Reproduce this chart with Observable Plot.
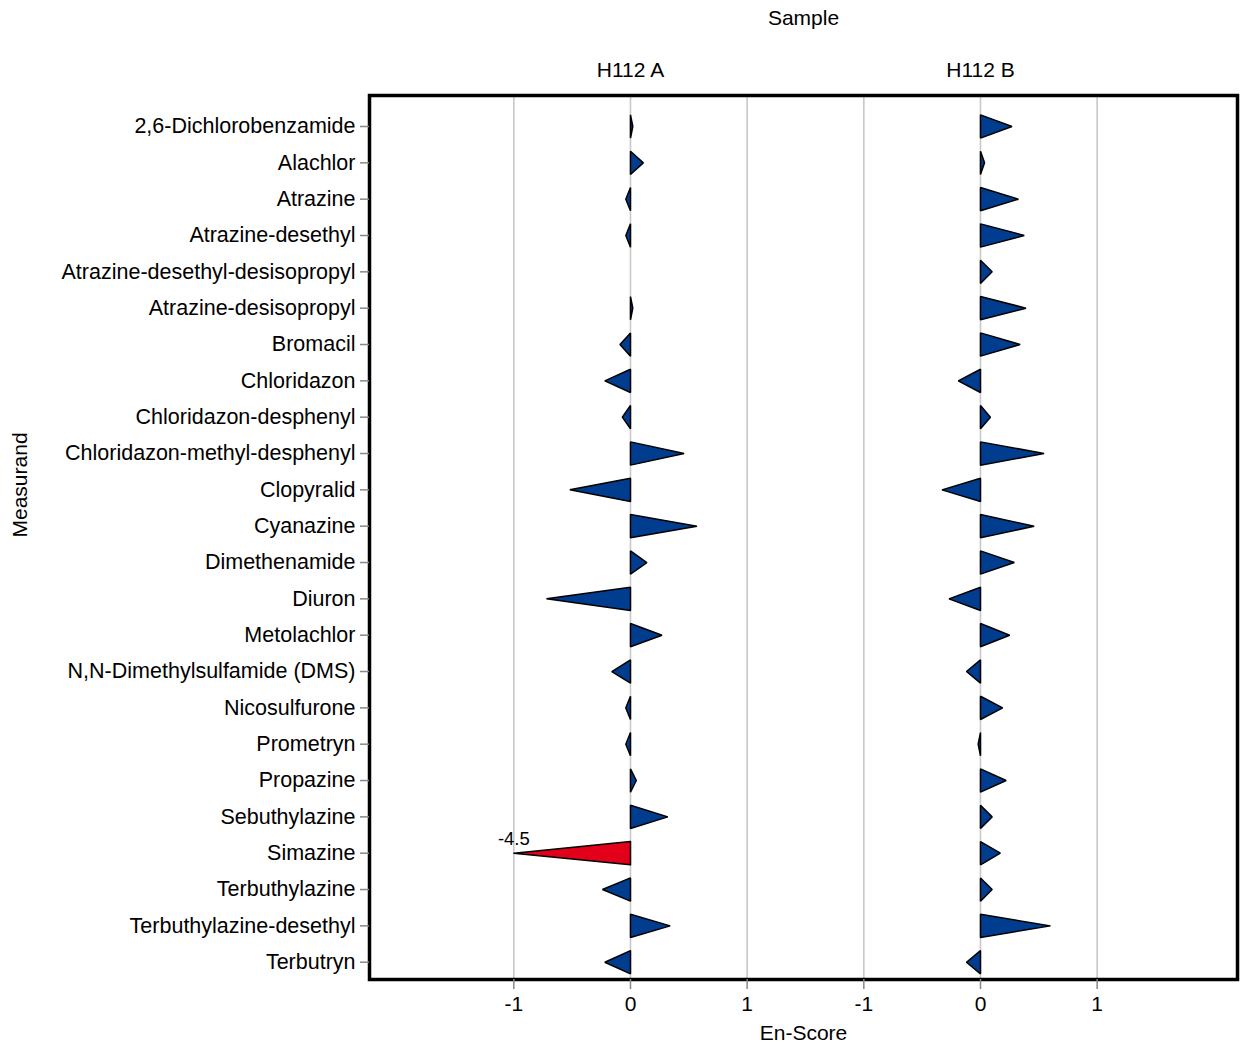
<!DOCTYPE html>
<html>
<head>
<meta charset="utf-8">
<script src="https://cdn.jsdelivr.net/npm/d3@7"></script>
<script src="https://cdn.jsdelivr.net/npm/@observablehq/plot@0.6"></script>
<style>
  html, body { margin: 0; padding: 0; background: #fff; }
</style>
</head>
<body>
<div id="chart"></div>
<script>
// ---- data ----
const measurands = [
  "2,6-Dichlorobenzamide", "Alachlor", "Atrazine", "Atrazine-desethyl",
  "Atrazine-desethyl-desisopropyl", "Atrazine-desisopropyl", "Bromacil", "Chloridazon",
  "Chloridazon-desphenyl", "Chloridazon-methyl-desphenyl", "Clopyralid", "Cyanazine",
  "Dimethenamide", "Diuron", "Metolachlor", "N,N-Dimethylsulfamide (DMS)",
  "Nicosulfurone", "Prometryn", "Propazine", "Sebuthylazine",
  "Simazine", "Terbuthylazine", "Terbuthylazine-desethyl", "Terbutryn"
];
const samples = ["H112 A", "H112 B"];
const scoresA = [0.02, 0.11, -0.04, -0.04, null, 0.02, -0.09, -0.22,
                 -0.07, 0.46, -0.52, 0.57, 0.14, -0.72, 0.27, -0.16,
                 -0.04, -0.04, 0.05, 0.32, -4.5, -0.24, 0.34, -0.22];
const scoresB = [0.27, 0.035, 0.325, 0.375, 0.10, 0.39, 0.34, -0.19,
                 0.085, 0.545, -0.33, 0.46, 0.29, -0.27, 0.25, -0.12,
                 0.19, -0.02, 0.22, 0.10, 0.17, 0.10, 0.60, -0.12];
const xTicks = [-1, 0, 1];

// ---- layout helpers ----
const scores = [scoresA, scoresB];
const panelStep = 3;      // x-units between the two sample panels
const half = 0.32;        // half height of the triangle base (in row units)
const limit = 1;          // scores beyond ±1 are clipped and flagged

const rows = [];
samples.forEach((s, j) => measurands.forEach((m, i) => {
  const v = scores[j][i];
  if (v == null) return;
  rows.push({j, i, v, shown: Math.max(-limit, Math.min(limit, v)), out: Math.abs(v) > limit});
}));
const verts = rows.flatMap(r => {
  const key = r.j + "-" + r.i, base = r.j * panelStep;
  return [
    {key, out: r.out, x: base, y: r.i - half},
    {key, out: r.out, x: base + r.shown, y: r.i},
    {key, out: r.out, x: base, y: r.i + half}
  ];
});
const tickPos = samples.flatMap((s, j) => xTicks.map(t => ({pos: j * panelStep + t, label: t})));
const tickLabel = new Map(tickPos.map(d => [d.pos, d.label]));

const plot = Plot.plot({
  width: 1240,
  height: 1047,
  marginLeft: 369,
  marginRight: 3,
  marginTop: 95,
  marginBottom: 68,
  style: {fontFamily: "'Liberation Sans', Arial, sans-serif", fontSize: "21px", background: "#fff", color: "#000"},
  x: {domain: [-2.237, 5.203], axis: null},
  y: {domain: [-0.853, 23.476], reverse: true, axis: null},
  marks: [
    Plot.ruleX(tickPos, {x: "pos", stroke: "#c8c8c8", strokeWidth: 1.6}),
    Plot.line(verts.filter(d => !d.out), {x: "x", y: "y", z: "key", fill: "#003d8f", stroke: "#000", strokeWidth: 1.5, curve: "linear-closed", strokeLinejoin: "miter"}),
    Plot.line(verts.filter(d => d.out), {x: "x", y: "y", z: "key", fill: "#e2001a", stroke: "#000", strokeWidth: 1.5, curve: "linear-closed", strokeLinejoin: "round"}),
    Plot.text(rows.filter(r => r.out), {x: r => r.j * panelStep + r.shown, y: "i", text: r => String(r.v), dy: -14, fontSize: 18.5, fill: "#000"}),
    Plot.frame({stroke: "#000", strokeWidth: 3.5}),
    Plot.axisY(d3.range(measurands.length), {
      anchor: "left", tickSize: 9, tickPadding: 5, stroke: "#888", strokeWidth: 1.5,
      tickFormat: i => measurands[i], fontSize: 21.5, label: null
    }),
    Plot.axisX(tickPos.map(d => d.pos), {
      anchor: "bottom", tickSize: 10, tickPadding: 7, stroke: "#888", strokeWidth: 1.5,
      tickFormat: p => String(tickLabel.get(p)), fontSize: 21, label: null
    }),
    Plot.text(samples, {x: (d, j) => j * panelStep, frameAnchor: "top", lineAnchor: "middle", dy: -25, text: d => d, fontSize: 21, fill: "#000"}),
    Plot.text(["Sample"], {frameAnchor: "top", lineAnchor: "middle", dy: -77, text: d => d, fontSize: 21, fill: "#000"}),
    Plot.text(["En-Score"], {frameAnchor: "bottom", lineAnchor: "middle", dy: 54, text: d => d, fontSize: 21, fill: "#000"}),
    Plot.text(["Measurand"], {frameAnchor: "left", lineAnchor: "middle", dx: -349, rotate: -90, text: d => d, fontSize: 21, fill: "#000"})
  ]
});
document.getElementById("chart").appendChild(plot);
</script>
</body>
</html>
